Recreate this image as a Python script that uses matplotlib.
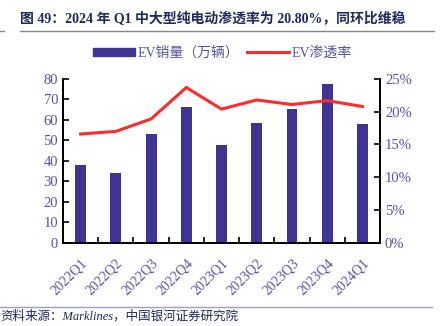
import matplotlib
matplotlib.use("Agg")
import matplotlib.pyplot as plt
from matplotlib.lines import Line2D
from matplotlib.patches import Patch

quarters = ["2022Q1", "2022Q2", "2022Q3", "2022Q4", "2023Q1",
            "2023Q2", "2023Q3", "2023Q4", "2024Q1"]
ev_sales = [38.0, 34.2, 53.3, 66.5, 47.6, 58.6, 65.2, 77.6, 57.9]
ev_rate = [16.6, 17.0, 18.9, 23.7, 20.4, 21.8, 21.1, 21.7, 20.8]

BAR = "#3f3393"
RED = "#ff2b2b"
TICK = "#5a50a8"
NAVY = "#1f2a5e"
FAM = ["Liberation Serif", "Noto Sans CJK SC"]

plt.rcParams["font.family"] = FAM

fig = plt.figure(figsize=(4.45, 3.26), dpi=100)
ax = fig.add_axes([0.1416, 0.2555, 0.7124, 0.5022])
ax2 = ax.twinx()

x = list(range(len(quarters)))
ax.bar(x, ev_sales, width=0.31, color=BAR, zorder=2)
ax2.plot(x, ev_rate, color=RED, lw=2.2, zorder=3)

ax.set_xlim(-0.5, len(quarters) - 0.5)
ax.set_ylim(0, 80)
ax.set_yticks(range(0, 81, 10))
ax2.set_ylim(0, 25)
ax2.set_yticks(range(0, 26, 5))
ax2.set_yticklabels([f"{v}%" for v in range(0, 26, 5)])

# boundary ticks between quarters, labels centred on the bars
ax.set_xticks([i + 0.5 for i in range(len(quarters) - 1)])
ax.set_xticklabels([])
ax.set_xticks(x, minor=True)
ax.set_xticklabels(quarters, minor=True, rotation=45, ha="right",
                   rotation_mode="anchor", color=TICK, fontsize=10)
ax.tick_params(axis="x", which="minor", length=0, pad=10)
ax.tick_params(axis="x", which="major", direction="in", length=4, width=1.2)
ax.tick_params(axis="y", direction="in", length=4, width=1.2,
               labelcolor=TICK, labelsize=10.5)
ax2.tick_params(axis="y", direction="in", length=4, width=1.2,
                labelcolor=TICK, labelsize=10.5)

for a in (ax, ax2):
    a.spines["top"].set_visible(False)
    for s in ("left", "right", "bottom"):
        a.spines[s].set_linewidth(1.3)

handles = [Patch(color=BAR), Line2D([], [], color=RED, lw=2.2)]
fig.legend(handles, ["EV销量（万辆）", "EV渗透率"], loc="center",
           bbox_to_anchor=(0.5, 0.838), ncol=2, frameon=False,
           handlelength=3.0, handleheight=0.5, columnspacing=0.6,
           handletextpad=0.2, fontsize=10,
           labelcolor="#55559a")

fig.text(0.045, 0.94, "图 49：2024 年 Q1 中大型纯电动渗透率为 20.80%，同环比维稳",
         fontsize=10, fontweight="bold", color=NAVY, va="center")
fig.add_artist(Line2D([0.045, 0.975], [0.905, 0.905], color="#888888", lw=1))
fig.add_artist(Line2D([0.0, 0.01], [0.905, 0.905], color="#888888", lw=1))
fig.add_artist(Line2D([0.0, 0.97], [0.058, 0.058], color="#a09ccc", lw=1))
fig.text(0.002, 0.028, "资料来源：Marklines，中国银河证券研究院", fontsize=9,
         style="italic", color=NAVY, va="center")

fig.savefig("out.png", dpi=100)
